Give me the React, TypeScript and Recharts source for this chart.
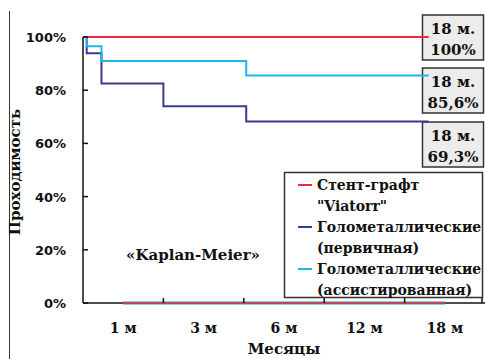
import React from 'react';
import { LineChart, Line, XAxis, YAxis } from 'recharts';

// Category labels on the time axis (one per interval)
const monthLabels = ['1 м', '3 м', '6 м', '12 м', '18 м'];
const yTicks = [0, 20, 40, 60, 80, 100];

// Step curves: breakpoints (in category units) and survival values (%)
const viatorrX = [0, 4.3];
const viatorrY = [100, 100];
const primaryX = [0, 0.046, 0.23, 1.0, 2.03, 4.3];
const primaryY = [100, 93.9, 82.5, 74.0, 68.2, 68.2];
const assistedX = [0, 0.046, 0.23, 2.03, 4.3];
const assistedY = [100, 96.5, 91.0, 85.5, 85.5];
const zeroX = [0.5, 4.5];
const zeroY = [0, 0];

const endLabels = [
  { top: '18 м.', bottom: '100%' },
  { top: '18 м.', bottom: '85,6%' },
  { top: '18 м.', bottom: '69,3%' },
];

const legendItems = [
  { color: '#ee2a3c', lines: ['Стент-графт', '"Viatorr"'] },
  { color: '#3a3a96', lines: ['Голометаллические', '(первичная)'] },
  { color: '#1cb8ec', lines: ['Голометаллические', '(ассистированная)'] },
];

const toPts = (xs: number[], ys: number[]) => xs.map((x, i) => ({ x, y: ys[i] }));

const W = 486;
const H = 359;
const PLOT_LEFT = 83;
const PLOT_RIGHT = 485;
const HALF_CAT = (PLOT_RIGHT - PLOT_LEFT) / monthLabels.length / 2;

const SERIF = '"DejaVu Serif", "Liberation Serif", serif';
const SANS = '"DejaVu Sans", sans-serif';

const XTick = (props: any) => {
  const { x, y, payload } = props;
  const i = payload.value as number;
  return (
    <g>
      {i > 0 && <line x1={x} y1={y} x2={x} y2={y - 5} stroke="#111" strokeWidth={1.5} />}
      {i < monthLabels.length && (
        <text x={x + HALF_CAT} y={y + 30} textAnchor="middle" fontFamily={SERIF} fontWeight="bold" fontSize={14} fill="#111">
          {monthLabels[i]}
        </text>
      )}
    </g>
  );
};

const YTick = (props: any) => {
  const { x, y, payload } = props;
  return (
    <g>
      <line x1={x} y1={y} x2={x + 5} y2={y} stroke="#111" strokeWidth={1.5} />
      <text x={x - 17} y={y + 5} textAnchor="end" fontFamily={SANS} fontWeight="bold" fontSize={13} fill="#111">
        {payload.value}%
      </text>
    </g>
  );
};

export default function App() {
  const extra: any = { zIndex: 900 };
  return (
    <div style={{ position: 'absolute', left: 0, top: 0, width: W, height: H, background: '#fff' }}>
      <LineChart width={W} height={H} margin={{ top: 37, right: 1, left: 0, bottom: 26 }}>
        <XAxis
          xAxisId={0}
          dataKey="x"
          type="number"
          domain={[0, 5]}
          ticks={[0, 1, 2, 3, 4, 5]}
          height={30}
          tickSize={0}
          tickMargin={0}
          tickLine={false}
          axisLine={{ stroke: '#111', strokeWidth: 1.5 }}
          tick={<XTick />}
        />
        <YAxis
          yAxisId={0}
          type="number"
          domain={[0, 100]}
          ticks={yTicks}
          width={PLOT_LEFT}
          tickSize={0}
          tickMargin={0}
          tickLine={false}
          axisLine={{ stroke: '#111', strokeWidth: 1.5 }}
          tick={<YTick />}
        />
        <Line {...extra} data={toPts(zeroX, zeroY)} dataKey="y" stroke="#1aa6b8" strokeWidth={3} dot={false} isAnimationActive={false} />
        <Line {...extra} data={toPts(zeroX, zeroY)} dataKey="y" stroke="#ee2a3c" strokeWidth={1.5} dot={false} isAnimationActive={false} />
        <Line data={toPts(primaryX, primaryY)} dataKey="y" type="stepAfter" stroke="#3a3a96" strokeWidth={2} dot={false} isAnimationActive={false} />
        <Line data={toPts(assistedX, assistedY)} dataKey="y" type="stepAfter" stroke="#1cb8ec" strokeWidth={2} dot={false} isAnimationActive={false} />
        <Line data={toPts(viatorrX, viatorrY)} dataKey="y" type="stepAfter" stroke="#ee2a3c" strokeWidth={2} dot={false} isAnimationActive={false} />

        {/* left frame line */}
        <line x1={9.5} y1={11} x2={9.5} y2={H} stroke="#333" strokeWidth={1} />

        {/* y-axis title */}
        <text x={20} y={172} transform="rotate(-90 20 172)" textAnchor="middle" fontFamily={SERIF} fontWeight="bold" fontSize={15} fill="#111">
          Проходимость
        </text>

        {/* x-axis title */}
        <text x={284} y={354} textAnchor="middle" fontFamily={SERIF} fontWeight="bold" fontSize={15} fill="#111">
          Месяцы
        </text>

        {/* method note */}
        <text x={193} y={260} textAnchor="middle" fontFamily={SERIF} fontWeight="bold" fontSize={15} fill="#111">
          «Kaplan-Meier»
        </text>

        {/* end-value boxes */}
        {endLabels.map((l, i) => {
          const tops = [15, 68, 122];
          const t = tops[i];
          return (
            <g key={i}>
              <rect x={422.5} y={t} width={61} height={45} fill="#ececec" stroke="#333" strokeWidth={1.5} />
              <text x={453} y={t + 19} textAnchor="middle" fontFamily={SERIF} fontWeight="bold" fontSize={15} fill="#111">{l.top}</text>
              <text x={453} y={t + 40} textAnchor="middle" fontFamily={SERIF} fontWeight="bold" fontSize={15} fill="#111">{l.bottom}</text>
            </g>
          );
        })}

        {/* legend */}
        <rect x={284.5} y={172.5} width={198} height={125} fill="#fff" stroke="#333" strokeWidth={1.5} />
        {legendItems.map((it, i) => {
          const y0 = 185 + i * 42;
          return (
            <g key={i}>
              <line x1={298} y1={y0} x2={312} y2={y0} stroke={it.color} strokeWidth={2} />
              <text x={317} y={y0 + 5} fontFamily={SERIF} fontWeight="bold" fontSize={14} fill="#111">{it.lines[0]}</text>
              <text x={317} y={y0 + 26} fontFamily={SERIF} fontWeight="bold" fontSize={14} fill="#111">{it.lines[1]}</text>
            </g>
          );
        })}
      </LineChart>
    </div>
  );
}
